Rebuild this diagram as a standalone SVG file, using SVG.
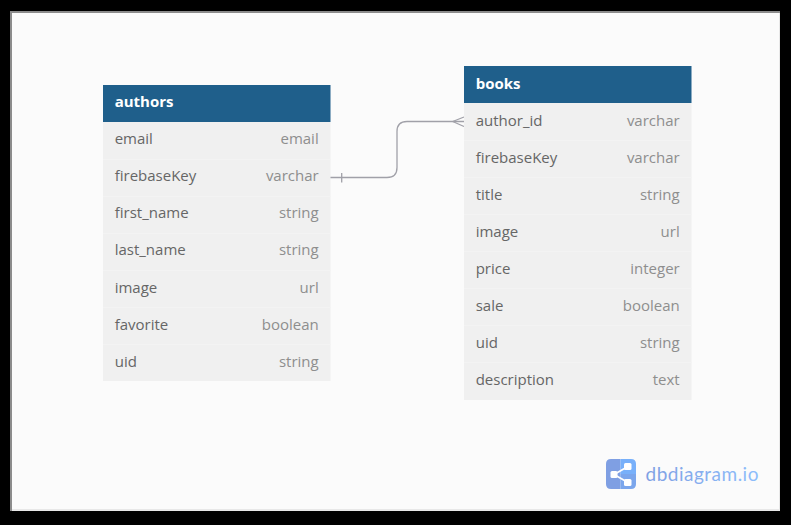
<svg xmlns="http://www.w3.org/2000/svg" width="791" height="525" viewBox="0 0 791 525">
<defs>
<linearGradient id="word" gradientUnits="userSpaceOnUse" x1="645" x2="758" y1="0" y2="0"><stop offset="0" stop-color="#7f9fe3"/><stop offset="1" stop-color="#8dbdfb"/></linearGradient>
</defs>
<style>
text{font-family:"Open Sans","Noto Sans",sans-serif;font-size:15px}
.head{fill:#1f5f8b}
.body{fill:#f0f0f0}
.sep{stroke:#f3f3f3;stroke-width:1}
.title{fill:#fff;font-weight:700}
.name{fill:#666}
.type{fill:#8e8e8e;text-anchor:end}
.conn{fill:none;stroke:#a0a0a8;stroke-width:1.3}
</style>
<rect width="791" height="525" fill="#000"/>
<rect x="10" y="11" width="770" height="500" fill="#8c8c8c"/>
<rect x="12" y="13" width="768" height="498" fill="#e8e8e8"/>
<rect x="12" y="13" width="767" height="496" fill="#fbfbfb"/>
<g id="connectors">
<path class="conn" d="M330 177.500H387Q397 177.500 397 167.500V131.500Q397 121.500 407 121.500H464"/>
<path class="conn" d="M341.700 173V182.500M452.700 121.500L464 117M452.700 121.500L464 126.500"/>
</g>
<g id="authors">
<rect class="body" x="103" y="122" width="227.500" height="259"/>
<rect class="head" x="103" y="85" width="227.500" height="37"/>
<path class="sep" d="M103 159.500H330.500M103 196.500H330.500M103 233.500H330.500M103 270.500H330.500M103 307.500H330.500M103 344.500H330.500"/>
<text class="title" x="114.700" y="107">authors</text>
<text class="name" x="114.700" y="144">email</text><text class="type" x="318.700" y="144">email</text>
<text class="name" x="114.700" y="181">firebaseKey</text><text class="type" x="318.700" y="181">varchar</text>
<text class="name" x="114.700" y="218">first_name</text><text class="type" x="318.700" y="218">string</text>
<text class="name" x="114.700" y="255">last_name</text><text class="type" x="318.700" y="255">string</text>
<text class="name" x="114.700" y="293">image</text><text class="type" x="318.700" y="293">url</text>
<text class="name" x="114.700" y="330">favorite</text><text class="type" x="318.700" y="330">boolean</text>
<text class="name" x="114.700" y="367">uid</text><text class="type" x="318.700" y="367">string</text>
</g>
<g id="books">
<rect class="body" x="464" y="103" width="227.500" height="297"/>
<rect class="head" x="464" y="66" width="227.500" height="37"/>
<path class="sep" d="M464 140.500H691.500M464 177.500H691.500M464 214.500H691.500M464 251.500H691.500M464 288.500H691.500M464 325.500H691.500M464 362.500H691.500"/>
<text class="title" x="475.700" y="89">books</text>
<text class="name" x="475.700" y="126">author_id</text><text class="type" x="679.700" y="126">varchar</text>
<text class="name" x="475.700" y="163">firebaseKey</text><text class="type" x="679.700" y="163">varchar</text>
<text class="name" x="475.700" y="200">title</text><text class="type" x="679.700" y="200">string</text>
<text class="name" x="475.700" y="237">image</text><text class="type" x="679.700" y="237">url</text>
<text class="name" x="475.700" y="274">price</text><text class="type" x="679.700" y="274">integer</text>
<text class="name" x="475.700" y="311">sale</text><text class="type" x="679.700" y="311">boolean</text>
<text class="name" x="475.700" y="348">uid</text><text class="type" x="679.700" y="348">string</text>
<text class="name" x="475.700" y="385">description</text><text class="type" x="679.700" y="385">text</text>
</g>
<g id="logo">
<path d="M620.500 459H611Q606 459 606 464V484Q606 489 611 489H620.500Z" fill="#7f9fe3"/>
<path d="M620.500 459H631Q636 459 636 464V474H620.500Z" fill="#78b0fa"/>
<path d="M620.500 474H636V484Q636 489 631 489H620.500Z" fill="#7ba6ec"/>
<path d="M614 474.500L628 466.500M614 474.500L628 482.500" stroke="#fff" stroke-width="1.800" fill="none"/>
<rect x="610.500" y="471" width="7" height="7" rx="1.500" fill="#fff"/>
<rect x="624" y="463" width="7.500" height="7" rx="1.500" fill="#fff"/>
<rect x="624" y="479" width="7.500" height="7" rx="1.500" fill="#fff"/>
<text x="645.500" y="481" fill="url(#word)" style="font-size:19px;font-family:'Lato','Open Sans',sans-serif;letter-spacing:.5px">dbdiagram.io</text>
</g>
</svg>
